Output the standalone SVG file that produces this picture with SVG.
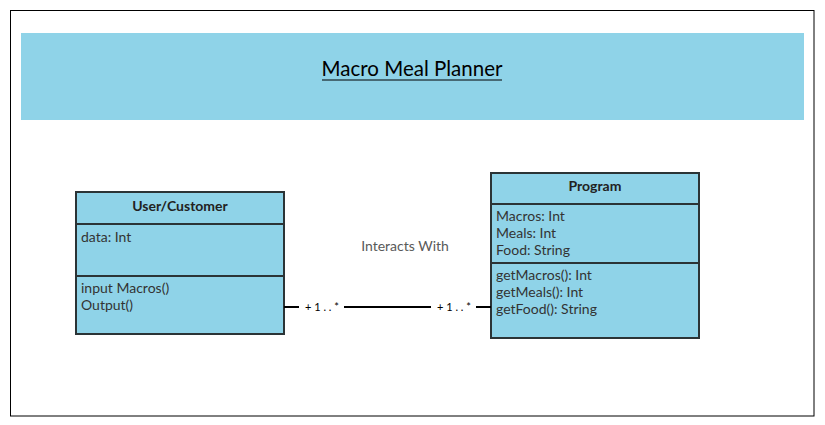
<svg xmlns="http://www.w3.org/2000/svg" width="825" height="425" viewBox="0 0 825 425">
<style>
.box{fill:#8fd3e8;stroke:#2b3436;stroke-width:2}
.div{stroke:#2b3436;stroke-width:2}
.t{font-family:Lato,"Liberation Sans",sans-serif;font-size:14px;fill:#333}
.h{font-family:Lato,"Liberation Sans",sans-serif;font-size:14px;font-weight:bold;fill:#222;text-anchor:middle}
.m{font-family:Lato,"Liberation Sans",sans-serif;font-size:11px;fill:#000}
.c{stroke:#000;stroke-width:2;fill:none}
</style>
<rect x="0" y="0" width="825" height="425" fill="#fff"/>
<rect x="10.5" y="10.5" width="803.5" height="405.5" fill="#fff" stroke="#000" stroke-width="1"/>
<g id="title">
<rect x="21" y="33" width="783" height="87" fill="#8fd3e8"/>
<text x="412" y="76" text-anchor="middle" font-family="Lato,'Liberation Sans',sans-serif" font-size="20.5" fill="#000">Macro Meal Planner</text>
<line x1="322" y1="80" x2="502" y2="80" stroke="#000" stroke-width="1.2"/>
</g>
<g id="user">
<rect class="box" x="76" y="192" width="208" height="142"/>
<line class="div" x1="76" y1="224" x2="284" y2="224"/>
<line class="div" x1="76" y1="276" x2="284" y2="276"/>
<text class="h" x="180" y="211">User/Customer</text>
<text class="t" x="81" y="242">data: Int</text>
<text class="t" x="81" y="293">input Macros()</text>
<text class="t" x="81" y="310">Output()</text>
</g>
<g id="program">
<rect class="box" x="491" y="173" width="208" height="165"/>
<line class="div" x1="491" y1="204" x2="699" y2="204"/>
<line class="div" x1="491" y1="263" x2="699" y2="263"/>
<text class="h" x="595" y="191">Program</text>
<text class="t" x="496" y="221">Macros: Int</text>
<text class="t" x="496" y="238">Meals: Int</text>
<text class="t" x="496" y="255">Food: String</text>
<text class="t" x="496" y="280">getMacros(): Int</text>
<text class="t" x="496" y="297">getMeals(): Int</text>
<text class="t" x="496" y="314">getFood(): String</text>
</g>
<g id="connectors">
<line class="c" x1="284" y1="307" x2="299" y2="307"/>
<line class="c" x1="344" y1="307" x2="431" y2="307"/>
<line class="c" x1="476" y1="307" x2="491" y2="307"/>
<text class="m" x="305" y="311">+ 1 . . *</text>
<text class="m" x="437" y="311">+ 1 . . *</text>
<text x="405" y="251" text-anchor="middle" font-family="Lato,'Liberation Sans',sans-serif" font-size="14" fill="#595959">Interacts With</text>
</g>
</svg>
